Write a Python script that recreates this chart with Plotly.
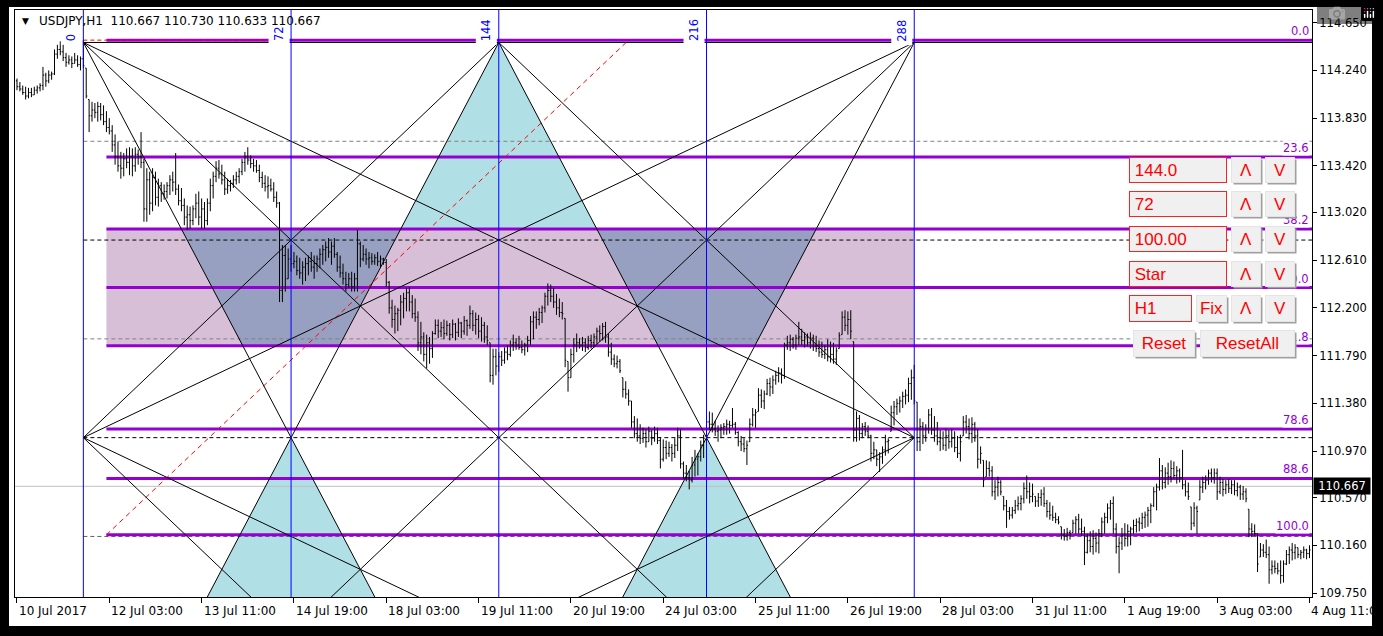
import plotly.graph_objects as go

# H1 bars of USDJPY, bar 0 = 10 Jul 2017 19:00
highs = [
    114.17, 114.14, 114.11, 114.10, 114.09, 114.09, 114.10, 114.11, 114.13, 114.27,
    114.22, 114.24, 114.23, 114.42, 114.46, 114.49, 114.47, 114.39, 114.37, 114.36,
    114.39, 114.37, 114.36, 114.50, 114.26, 113.99, 113.97, 113.96, 113.97, 113.96,
    113.94, 113.89, 113.83, 113.77, 113.69, 113.63, 113.54, 113.53, 113.57, 113.58,
    113.57, 113.58, 113.56, 113.71, 113.48, 113.40, 113.37, 113.40, 113.37, 113.31,
    113.28, 113.26, 113.28, 113.34, 113.37, 113.53, 113.26, 113.23, 113.14, 113.08,
    113.07, 113.08, 113.18, 113.20, 113.14, 113.11, 113.14, 113.31, 113.37, 113.46,
    113.47, 113.43, 113.37, 113.31, 113.30, 113.34, 113.37, 113.40, 113.48, 113.54,
    113.58, 113.51, 113.48, 113.47, 113.43, 113.37, 113.34, 113.33, 113.31, 113.28,
    113.20, 113.11, 112.74, 112.74, 112.71, 112.74, 112.68, 112.65, 112.63, 112.60,
    112.63, 112.65, 112.68, 112.65, 112.65, 112.71, 112.74, 112.77, 112.80, 112.77,
    112.80, 112.68, 112.65, 112.58, 112.51, 112.50, 112.51, 112.50, 112.87, 112.77,
    112.74, 112.71, 112.68, 112.67, 112.66, 112.68, 112.65, 112.63, 112.62, 112.43,
    112.27, 112.22, 112.20, 112.31, 112.33, 112.37, 112.38, 112.31, 112.28, 112.17,
    112.08, 111.99, 111.97, 111.95, 112.00, 112.10, 112.10, 112.08, 112.10, 112.09,
    112.07, 112.10, 112.07, 112.11, 112.08, 112.13, 112.10, 112.22, 112.18, 112.16,
    112.14, 112.12, 112.08, 112.05, 111.90, 111.85, 111.85, 111.82, 111.83, 111.86,
    111.88, 111.92, 111.97, 111.94, 111.96, 111.92, 111.90, 111.96, 112.13, 112.17,
    112.17, 112.20, 112.22, 112.33, 112.41, 112.40, 112.37, 112.32, 112.28, 112.25,
    112.11, 111.74, 111.85, 111.94, 111.98, 111.94, 111.95, 111.94, 111.96, 111.97,
    111.98, 112.03, 112.05, 112.07, 112.08, 111.98, 111.90, 111.80, 111.79, 111.76,
    111.60, 111.57, 111.50, 111.40, 111.27, 111.25, 111.20, 111.17, 111.16, 111.18,
    111.15, 111.18, 111.17, 111.09, 111.07, 111.06, 111.05, 111.03, 111.08, 111.17,
    111.16, 110.88, 110.85, 110.80, 110.92, 110.98, 110.95, 111.06, 111.11, 111.28,
    111.31, 111.30, 111.23, 111.19, 111.20, 111.21, 111.24, 111.23, 111.34, 111.22,
    111.14, 111.10, 111.08, 111.06, 111.25, 111.34, 111.33, 111.51, 111.50, 111.49,
    111.59, 111.60, 111.62, 111.66, 111.69, 111.68, 111.90, 111.96, 111.97, 111.95,
    111.97, 112.08, 112.02, 111.99, 111.98, 111.99, 111.97, 111.96, 111.92, 111.91,
    111.88, 111.93, 111.91, 111.90, 111.86, 111.99, 112.17, 112.18, 112.17, 112.18,
    111.91, 111.31, 111.28, 111.21, 111.22, 111.19, 111.11, 111.05, 110.98, 110.96,
    111.01, 111.11, 111.08, 111.36, 111.40, 111.42, 111.44, 111.48, 111.50, 111.60,
    111.67, 111.71, 111.39, 111.25, 111.22, 111.20, 111.33, 111.34, 111.27, 111.22,
    111.15, 111.14, 111.16, 111.15, 111.16, 111.14, 111.10, 111.11, 111.27, 111.28,
    111.25, 111.26, 111.22, 111.16, 111.01, 110.89, 110.89, 110.88, 110.84, 110.72,
    110.75, 110.72, 110.58, 110.55, 110.49, 110.49, 110.55, 110.58, 110.59, 110.70,
    110.76, 110.70, 110.69, 110.58, 110.61, 110.64, 110.66, 110.55, 110.53, 110.50,
    110.44, 110.41, 110.32, 110.30, 110.31, 110.29, 110.38, 110.41, 110.43, 110.39,
    110.32, 110.26, 110.28, 110.29, 110.27, 110.30, 110.40, 110.44, 110.52, 110.55,
    110.58, 110.35, 110.23, 110.31, 110.35, 110.34, 110.32, 110.38, 110.39, 110.40,
    110.44, 110.45, 110.49, 110.52, 110.66, 110.69, 110.91, 110.85, 110.83, 110.87,
    110.89, 110.88, 110.84, 110.82, 110.98, 110.72, 110.70, 110.49, 110.53, 110.50,
    110.72, 110.75, 110.76, 110.81, 110.82, 110.82, 110.82, 110.75, 110.73, 110.72,
    110.73, 110.72, 110.72, 110.70, 110.68, 110.67, 110.65, 110.47, 110.35, 110.34,
    110.26, 110.18, 110.17, 110.21, 110.15, 110.03, 110.03, 110.01, 110.03, 110.03,
    110.12, 110.15, 110.18, 110.17, 110.14, 110.12, 110.15, 110.13, 110.16,
]
lows = [
    114.07, 114.06, 114.03, 113.99, 114.00, 114.01, 114.03, 114.04, 114.06, 114.07,
    114.10, 114.13, 114.16, 114.20, 114.34, 114.37, 114.32, 114.27, 114.29, 114.26,
    114.30, 114.27, 114.24, 114.26, 114.00, 113.71, 113.80, 113.83, 113.80, 113.81,
    113.77, 113.71, 113.69, 113.54, 113.43, 113.37, 113.31, 113.33, 113.40, 113.34,
    113.33, 113.37, 113.43, 113.40, 112.94, 112.94, 113.00, 113.03, 113.08, 113.07,
    113.11, 113.13, 113.14, 113.17, 113.20, 113.17, 113.08, 113.03, 112.91, 112.87,
    112.88, 112.91, 112.97, 112.91, 112.88, 112.88, 112.91, 113.03, 113.14, 113.28,
    113.31, 113.26, 113.17, 113.18, 113.20, 113.23, 113.26, 113.27, 113.34, 113.37,
    113.43, 113.40, 113.37, 113.36, 113.28, 113.23, 113.20, 113.14, 113.20, 113.11,
    113.06, 112.25, 112.25, 112.34, 112.45, 112.51, 112.54, 112.48, 112.45, 112.40,
    112.43, 112.48, 112.51, 112.45, 112.51, 112.54, 112.57, 112.60, 112.63, 112.57,
    112.63, 112.51, 112.46, 112.40, 112.34, 112.37, 112.34, 112.34, 112.34, 112.55,
    112.60, 112.57, 112.54, 112.57, 112.57, 112.56, 112.55, 112.57, 112.38, 112.15,
    112.03, 111.98, 112.00, 112.05, 112.11, 112.17, 112.17, 112.11, 112.08, 111.83,
    111.80, 111.74, 111.68, 111.72, 111.77, 111.97, 111.94, 111.95, 111.93, 111.96,
    111.92, 111.94, 111.92, 111.95, 111.94, 111.97, 111.96, 112.02, 112.00, 111.97,
    111.94, 111.91, 111.90, 111.88, 111.56, 111.54, 111.62, 111.65, 111.70, 111.72,
    111.75, 111.78, 111.83, 111.84, 111.84, 111.81, 111.79, 111.82, 111.88, 111.93,
    112.02, 112.05, 112.07, 112.16, 112.22, 112.25, 112.20, 112.14, 112.12, 112.10,
    111.69, 111.48, 111.60, 111.73, 111.82, 111.85, 111.83, 111.82, 111.84, 111.85,
    111.86, 111.89, 111.91, 111.92, 111.90, 111.78, 111.71, 111.69, 111.68, 111.64,
    111.43, 111.42, 111.36, 111.17, 111.08, 111.05, 111.03, 111.04, 111.00, 111.05,
    111.02, 111.05, 111.03, 110.82, 110.88, 110.90, 110.92, 110.88, 110.91, 110.97,
    110.82, 110.73, 110.71, 110.64, 110.70, 110.75, 110.76, 110.88, 110.91, 111.10,
    111.15, 111.13, 111.10, 111.05, 111.08, 111.11, 111.11, 111.12, 111.17, 111.11,
    111.01, 110.97, 110.96, 110.85, 111.05, 111.18, 111.17, 111.31, 111.34, 111.33,
    111.45, 111.44, 111.46, 111.54, 111.56, 111.55, 111.59, 111.84, 111.83, 111.85,
    111.84, 111.88, 111.88, 111.86, 111.87, 111.85, 111.83, 111.82, 111.78, 111.77,
    111.76, 111.74, 111.73, 111.72, 111.71, 111.85, 111.97, 112.00, 111.97, 111.93,
    111.05, 111.05, 111.06, 111.08, 111.10, 111.08, 110.88, 110.90, 110.84, 110.79,
    110.86, 110.93, 110.95, 111.14, 111.19, 111.28, 111.30, 111.34, 111.37, 111.39,
    111.41, 111.37, 110.97, 110.97, 111.03, 111.05, 111.12, 111.11, 111.05, 111.02,
    110.97, 110.98, 110.97, 110.99, 111.00, 110.96, 110.91, 110.88, 111.10, 111.12,
    111.07, 111.04, 111.05, 110.82, 110.86, 110.66, 110.75, 110.75, 110.58, 110.55,
    110.58, 110.59, 110.46, 110.31, 110.38, 110.39, 110.43, 110.46, 110.46, 110.52,
    110.56, 110.52, 110.53, 110.49, 110.49, 110.50, 110.49, 110.40, 110.38, 110.37,
    110.35, 110.34, 110.21, 110.20, 110.20, 110.21, 110.27, 110.26, 110.26, 110.24,
    109.99, 110.09, 110.10, 110.08, 110.10, 110.09, 110.23, 110.26, 110.35, 110.38,
    110.26, 110.09, 109.92, 110.12, 110.15, 110.15, 110.16, 110.26, 110.27, 110.28,
    110.30, 110.31, 110.32, 110.35, 110.49, 110.46, 110.63, 110.64, 110.65, 110.68,
    110.70, 110.73, 110.69, 110.70, 110.64, 110.58, 110.55, 110.29, 110.32, 110.26,
    110.55, 110.61, 110.64, 110.68, 110.70, 110.69, 110.55, 110.60, 110.58, 110.60,
    110.61, 110.60, 110.59, 110.58, 110.55, 110.55, 110.53, 110.23, 110.23, 110.24,
    109.93, 110.06, 110.06, 110.05, 109.83, 109.91, 109.92, 109.91, 109.83, 109.84,
    109.99, 110.00, 110.03, 110.04, 110.05, 110.04, 110.05, 110.04, 110.05,
]
opens = [
    114.15, 114.10, 114.08, 114.05, 114.02, 114.05, 114.03, 114.07, 114.09, 114.11,
    114.20, 114.15, 114.20, 114.21, 114.38, 114.42, 114.40, 114.35, 114.31, 114.33,
    114.30, 114.33, 114.29, 114.34, 114.26, 113.99, 113.85, 113.90, 113.88, 113.93,
    113.86, 113.80, 113.75, 113.72, 113.60, 113.50, 113.42, 113.40, 113.48, 113.45,
    113.50, 113.42, 113.52, 113.50, 113.45, 113.05, 113.30, 113.10, 113.32, 113.15,
    113.25, 113.18, 113.20, 113.25, 113.30, 113.28, 113.22, 113.12, 113.08, 112.98,
    113.00, 112.95, 113.05, 113.10, 112.98, 113.05, 112.95, 113.10, 113.25, 113.33,
    113.40, 113.35, 113.30, 113.22, 113.25, 113.27, 113.30, 113.33, 113.37, 113.45,
    113.50, 113.47, 113.44, 113.42, 113.38, 113.32, 113.27, 113.24, 113.25, 113.22,
    113.15, 113.10, 112.35, 112.65, 112.45, 112.62, 112.58, 112.60, 112.52, 112.50,
    112.55, 112.58, 112.60, 112.55, 112.58, 112.62, 112.66, 112.70, 112.72, 112.68,
    112.73, 112.66, 112.55, 112.50, 112.45, 112.40, 112.45, 112.38, 112.45, 112.75,
    112.62, 112.66, 112.62, 112.63, 112.60, 112.63, 112.60, 112.62, 112.59, 112.42,
    112.20, 112.10, 112.15, 112.18, 112.25, 112.28, 112.33, 112.25, 112.15, 112.12,
    111.90, 111.95, 111.80, 111.90, 111.85, 111.98, 112.05, 112.00, 112.03, 111.98,
    112.05, 111.97, 112.06, 111.99, 112.07, 112.00, 112.09, 112.05, 112.15, 112.05,
    112.10, 112.00, 112.05, 111.95, 111.90, 111.62, 111.78, 111.70, 111.78, 111.75,
    111.82, 111.80, 111.88, 111.90, 111.88, 111.86, 111.84, 111.88, 111.92, 112.08,
    112.12, 112.10, 112.16, 112.20, 112.30, 112.35, 112.30, 112.25, 112.20, 112.16,
    112.11, 111.74, 111.60, 111.80, 111.88, 111.90, 111.88, 111.90, 111.86, 111.92,
    111.90, 111.95, 112.00, 111.98, 112.04, 111.95, 111.82, 111.76, 111.72, 111.74,
    111.60, 111.50, 111.46, 111.40, 111.22, 111.12, 111.10, 111.08, 111.12, 111.05,
    111.14, 111.08, 111.12, 111.06, 110.90, 111.00, 110.95, 111.00, 110.95, 111.02,
    111.10, 110.86, 110.78, 110.74, 110.72, 110.85, 110.90, 110.92, 111.02, 111.10,
    111.22, 111.20, 111.16, 111.14, 111.15, 111.17, 111.18, 111.20, 111.19, 111.20,
    111.13, 111.05, 111.03, 110.99, 111.05, 111.20, 111.28, 111.31, 111.45, 111.40,
    111.46, 111.55, 111.52, 111.58, 111.62, 111.64, 111.62, 111.88, 111.90, 111.93,
    111.88, 111.94, 111.95, 111.92, 111.95, 111.90, 111.94, 111.87, 111.85, 111.82,
    111.80, 111.84, 111.78, 111.80, 111.76, 111.85, 111.97, 112.12, 112.05, 112.10,
    111.91, 111.15, 111.25, 111.12, 111.18, 111.14, 111.10, 110.95, 110.98, 110.90,
    110.92, 110.98, 111.05, 111.14, 111.30, 111.35, 111.38, 111.40, 111.44, 111.45,
    111.55, 111.60, 111.39, 111.05, 111.18, 111.10, 111.16, 111.28, 111.15, 111.10,
    111.05, 111.08, 111.02, 111.10, 111.05, 111.08, 111.00, 110.95, 111.10, 111.22,
    111.18, 111.12, 111.20, 111.10, 110.90, 110.89, 110.75, 110.82, 110.80, 110.62,
    110.66, 110.70, 110.58, 110.50, 110.45, 110.42, 110.46, 110.50, 110.52, 110.56,
    110.65, 110.62, 110.58, 110.58, 110.54, 110.57, 110.60, 110.52, 110.45, 110.42,
    110.40, 110.38, 110.32, 110.25, 110.24, 110.27, 110.27, 110.35, 110.38, 110.30,
    110.28, 110.10, 110.20, 110.15, 110.22, 110.18, 110.26, 110.36, 110.40, 110.48,
    110.52, 110.30, 110.15, 110.18, 110.25, 110.22, 110.28, 110.30, 110.33, 110.36,
    110.35, 110.40, 110.42, 110.46, 110.50, 110.62, 110.66, 110.80, 110.70, 110.78,
    110.75, 110.82, 110.76, 110.80, 110.74, 110.68, 110.62, 110.49, 110.35, 110.48,
    110.55, 110.66, 110.70, 110.72, 110.78, 110.74, 110.78, 110.62, 110.70, 110.64,
    110.68, 110.65, 110.68, 110.63, 110.66, 110.60, 110.62, 110.47, 110.30, 110.28,
    110.26, 110.06, 110.12, 110.10, 110.08, 109.95, 109.98, 109.96, 109.94, 109.90,
    110.00, 110.08, 110.12, 110.10, 110.14, 110.08, 110.10, 110.12, 110.09,
]
closes = [
    114.10, 114.08, 114.05, 114.02, 114.05, 114.03, 114.07, 114.09, 114.11, 114.20,
    114.15, 114.20, 114.21, 114.38, 114.42, 114.40, 114.35, 114.31, 114.33, 114.30,
    114.33, 114.29, 114.34, 114.28, 114.02, 113.85, 113.90, 113.88, 113.93, 113.86,
    113.80, 113.75, 113.72, 113.60, 113.50, 113.42, 113.40, 113.48, 113.45, 113.50,
    113.42, 113.52, 113.50, 113.45, 113.05, 113.30, 113.10, 113.32, 113.15, 113.25,
    113.18, 113.20, 113.25, 113.30, 113.28, 113.22, 113.12, 113.08, 112.98, 113.00,
    112.95, 113.05, 113.10, 112.98, 113.05, 112.95, 113.10, 113.25, 113.33, 113.40,
    113.35, 113.30, 113.22, 113.25, 113.27, 113.30, 113.33, 113.37, 113.45, 113.50,
    113.47, 113.44, 113.42, 113.38, 113.32, 113.27, 113.24, 113.25, 113.22, 113.15,
    113.10, 112.35, 112.65, 112.45, 112.62, 112.58, 112.60, 112.52, 112.50, 112.55,
    112.58, 112.60, 112.55, 112.58, 112.62, 112.66, 112.70, 112.72, 112.68, 112.73,
    112.66, 112.55, 112.50, 112.45, 112.40, 112.45, 112.38, 112.45, 112.75, 112.62,
    112.66, 112.62, 112.63, 112.60, 112.63, 112.60, 112.62, 112.59, 112.42, 112.20,
    112.10, 112.15, 112.18, 112.25, 112.28, 112.33, 112.25, 112.15, 112.12, 111.90,
    111.95, 111.80, 111.90, 111.85, 111.98, 112.05, 112.00, 112.03, 111.98, 112.05,
    111.97, 112.06, 111.99, 112.07, 112.00, 112.09, 112.05, 112.15, 112.05, 112.10,
    112.00, 112.05, 111.95, 111.92, 111.62, 111.78, 111.70, 111.78, 111.75, 111.82,
    111.80, 111.88, 111.90, 111.88, 111.86, 111.84, 111.88, 111.92, 112.08, 112.12,
    112.10, 112.16, 112.20, 112.30, 112.35, 112.30, 112.25, 112.20, 112.16, 112.15,
    111.75, 111.60, 111.80, 111.88, 111.90, 111.88, 111.90, 111.86, 111.92, 111.90,
    111.95, 112.00, 111.98, 112.04, 111.95, 111.82, 111.76, 111.72, 111.74, 111.66,
    111.50, 111.46, 111.40, 111.22, 111.12, 111.10, 111.08, 111.12, 111.05, 111.14,
    111.08, 111.12, 111.06, 110.90, 111.00, 110.95, 111.00, 110.95, 111.02, 111.10,
    110.86, 110.78, 110.74, 110.72, 110.85, 110.90, 110.92, 111.02, 111.08, 111.22,
    111.20, 111.16, 111.14, 111.15, 111.17, 111.18, 111.20, 111.19, 111.20, 111.13,
    111.05, 111.03, 110.99, 111.02, 111.20, 111.28, 111.30, 111.45, 111.40, 111.46,
    111.55, 111.52, 111.58, 111.62, 111.64, 111.62, 111.88, 111.90, 111.93, 111.88,
    111.94, 111.95, 111.92, 111.95, 111.90, 111.94, 111.87, 111.85, 111.82, 111.80,
    111.84, 111.78, 111.80, 111.76, 111.83, 111.96, 112.12, 112.05, 112.10, 112.00,
    111.15, 111.25, 111.12, 111.18, 111.14, 111.10, 110.95, 110.98, 110.90, 110.92,
    110.98, 111.05, 111.06, 111.30, 111.35, 111.38, 111.40, 111.44, 111.45, 111.55,
    111.60, 111.40, 111.05, 111.18, 111.10, 111.16, 111.28, 111.15, 111.10, 111.05,
    111.08, 111.02, 111.10, 111.05, 111.08, 111.00, 110.95, 111.05, 111.22, 111.18,
    111.12, 111.20, 111.10, 110.90, 110.95, 110.72, 110.82, 110.80, 110.62, 110.66,
    110.70, 110.62, 110.50, 110.45, 110.42, 110.46, 110.50, 110.52, 110.56, 110.65,
    110.62, 110.58, 110.60, 110.54, 110.57, 110.60, 110.52, 110.45, 110.42, 110.40,
    110.38, 110.36, 110.25, 110.24, 110.27, 110.26, 110.35, 110.38, 110.30, 110.28,
    110.10, 110.20, 110.15, 110.22, 110.18, 110.26, 110.36, 110.40, 110.48, 110.52,
    110.30, 110.15, 110.18, 110.25, 110.22, 110.28, 110.30, 110.33, 110.36, 110.35,
    110.40, 110.42, 110.46, 110.50, 110.62, 110.66, 110.80, 110.70, 110.78, 110.75,
    110.82, 110.76, 110.80, 110.74, 110.68, 110.62, 110.58, 110.35, 110.48, 110.45,
    110.66, 110.70, 110.72, 110.78, 110.74, 110.78, 110.62, 110.70, 110.64, 110.68,
    110.65, 110.68, 110.63, 110.66, 110.60, 110.62, 110.56, 110.30, 110.28, 110.26,
    110.00, 110.12, 110.10, 110.08, 109.95, 109.98, 109.96, 109.94, 109.90, 110.00,
    110.08, 110.12, 110.10, 110.14, 110.08, 110.10, 110.12, 110.09, 110.12,
]
bars = list(range(len(closes)))

time_labels = ["10 Jul 2017", "12 Jul 03:00", "13 Jul 11:00", "14 Jul 19:00", "18 Jul 03:00",
               "19 Jul 11:00", "20 Jul 19:00", "24 Jul 03:00", "25 Jul 11:00", "26 Jul 19:00",
               "28 Jul 03:00", "31 Jul 11:00", "1 Aug 19:00", "3 Aug 03:00", "4 Aug 11:00"]
time_label_bars = [0, 32, 64, 96, 128, 160, 192, 224, 256, 288, 320, 352, 384, 416, 448]
price_ticks = [114.650, 114.240, 113.830, 113.420, 113.020, 112.610, 112.200,
               111.790, 111.380, 110.970, 110.570, 110.160, 109.750]

symbol = "USDJPY,H1"
last_ohlc = ["110.667", "110.730", "110.633", "110.667"]
last_price = 110.667

fib_levels = [0.0, 23.6, 38.2, 50.0, 61.8, 78.6, 88.6, 100.0]
fib_high = 114.50
fib_low = 110.25
fib_bar_a = 31
fib_bar_b = 212
red_top_end_bar = 87

gann_bars = [23, 95, 167, 239, 311]
gann_names = ["0", "72", "144", "216", "288"]
gann_top = 114.48
gann_mid = 111.085

panel_values = ["144.0", "72", "100.00", "Star"]
panel_tf = "H1"

X_MIN, X_MAX = -0.69, 448.87
Y_MIN, Y_MAX = 109.716, 114.759
FONT = "DejaVu Sans"
PURPLE = "#9400D3"
TICK = 0.38  # open/close tick length in bars

# plot area in pixels: left 15, right 1312, top 10, bottom 597
def px_x(px):
    return (px - 15) / 1297


def px_y(py):
    return (597 - py) / 587


def fib_price(lvl):
    return fib_high - (fib_high - fib_low) * lvl / 100


def x_at(p, q, price):
    return p[0] + (price - p[1]) * (q[0] - p[0]) / (q[1] - p[1])


g0, g72, g144, g216, g288 = gann_bars
step = (gann_top - gann_mid) / 4
gann_bot = gann_mid - (gann_top - gann_mid)
A0, A144, A288 = (g0, gann_top), (g144, gann_top), (g288, gann_top)
M0, M144, M288 = (g0, gann_mid), (g144, gann_mid), (g288, gann_mid)
X1, X2 = (g72, gann_mid), (g216, gann_mid)
B0, B144, B288 = (g0, gann_bot), (g144, gann_bot), (g288, gann_bot)

box_top = fib_price(38.2)
box_bot = fib_price(61.8)

fig = go.Figure()


def poly(points, color):
    xs = [p[0] for p in points] + [points[0][0]]
    ys = [p[1] for p in points] + [points[0][1]]
    fig.add_trace(go.Scatter(x=xs, y=ys, mode="lines", fill="toself", fillcolor=color,
                             line=dict(width=0, color=color), hoverinfo="skip"))


def hline(price, x0, x1, color, width=1, dash=None):
    fig.add_trace(go.Scatter(x=[x0, x1], y=[price, price], mode="lines",
                             line=dict(color=color, width=width, dash=dash), hoverinfo="skip"))


# filled zones
poly([(fib_bar_a, box_top), (g288, box_top), (g288, box_bot), (fib_bar_a, box_bot)], "#D8BFD8")
for left, right in [((A0, X1), (A144, X1)), ((A144, X2), (A288, X2))]:
    poly([(x_at(*left, box_top), box_top), (x_at(*right, box_top), box_top),
          (x_at(*right, box_bot), box_bot), (x_at(*left, box_bot), box_bot)], "#97A0C1")
poly([A144, (x_at(A144, X1, box_top), box_top), (x_at(A144, X2, box_top), box_top)], "#B0E0E6")
poly([X1, B0, B144], "#B0E0E6")
poly([X2, B144, B288], "#B0E0E6")

# current price line
hline(last_price, X_MIN, X_MAX, "#C0C0C0")

# gann rows
row_colors = ["#808080", "black", "#808080", "black", "#606060"]
for k in range(1, 6):
    hline(gann_top - k * step, g0, X_MAX, row_colors[k - 1], 1, "4px,3px")

# gann top edge and fib levels
hline(gann_top, g0, X_MAX, "black", 1)
for lvl in fib_levels:
    hline(fib_price(lvl), fib_bar_a, X_MAX, PURPLE, 3)

# red dashed fib baseline
hline(fib_high, g0, red_top_end_bar, "red", 1, "4px,3px")
fig.add_trace(go.Scatter(x=[fib_bar_a, fib_bar_b], y=[fib_low, fib_high], mode="lines",
                         line=dict(color="red", width=1, dash="5px,4px"), hoverinfo="skip"))

# gann star lines
star = [(A0, B144), (A0, B288), (A0, M288), (A144, B0), (A144, M0), (A144, B288),
        (A144, M288), (A288, B144), (A288, B0), (A288, M0), (M0, B144), (M0, B288),
        (M288, B144), (M288, B0)]
sx, sy = [], []
for p, q in star:
    sx += [p[0], q[0], None]
    sy += [p[1], q[1], None]
fig.add_trace(go.Scatter(x=sx, y=sy, mode="lines", line=dict(color="black", width=1),
                         hoverinfo="skip"))

# price bars (high-low stem, open tick left, close tick right)
bx, by = [], []
for i, o, h, l, c in zip(bars, opens, highs, lows, closes):
    bx += [i, i, None, i - TICK, i, None, i, i + TICK, None]
    by += [l, h, None, o, o, None, c, c, None]
fig.add_trace(go.Scatter(x=bx, y=by, mode="lines", line=dict(color="black", width=1),
                         hoverinfo="skip"))

shapes = [dict(type="rect", xref="paper", yref="paper", x0=px_x(9), x1=px_x(1372),
               y0=px_y(626), y1=px_y(7), fillcolor="white", line=dict(width=0), layer="below")]
for b in gann_bars:
    shapes.append(dict(type="line", xref="x", yref="paper", x0=b, x1=b, y0=0, y1=1,
                       line=dict(color="#0000FF", width=1), layer="above"))

ann = []
# gann labels
for b, name in zip(gann_bars, gann_names):
    ann.append(dict(x=b, y=gann_top, xref="x", yref="y", text=name, showarrow=False,
                    textangle=-90, xanchor="center", yanchor="bottom", xshift=-12, yshift=-3,
                    font=dict(family=FONT, size=11.5, color="#0000FF"),
                    bgcolor="white", borderpad=3))
# fib labels
for lvl in fib_levels:
    ann.append(dict(x=1, y=fib_price(lvl), xref="paper", yref="y", text=f"{lvl:.1f}",
                    showarrow=False, xanchor="right", yanchor="bottom", xshift=-2, yshift=1,
                    font=dict(family=FONT, size=11.5, color=PURPLE), bgcolor="white",
                    borderpad=0))
# time labels
for b, t in zip(time_label_bars, time_labels):
    ann.append(dict(x=b, y=0, xref="x", yref="paper", text=t, showarrow=False,
                    xanchor="left", yanchor="top", xshift=0, yshift=-5,
                    font=dict(family=FONT, size=12, color="black")))
# current price tag on axis
ann.append(dict(x=1, y=last_price, xref="paper", yref="y", text=f"{last_price:.3f}",
                showarrow=False, xanchor="left", yanchor="middle", xshift=1,
                font=dict(family=FONT, size=11.5, color="white"), bgcolor="black",
                width=54, borderpad=1))
# header
ann.append(dict(x=px_x(20), y=px_y(21), xref="paper", yref="paper", text="\u25bc",
                showarrow=False, xanchor="left", yanchor="middle",
                font=dict(family=FONT, size=9, color="black")))
ann.append(dict(x=px_x(37), y=px_y(21), xref="paper", yref="paper",
                text=symbol + "  " + " ".join(last_ohlc), showarrow=False,
                xanchor="left", yanchor="middle",
                font=dict(family=FONT, size=12, color="black")))


def widget(x0, y0, x1, y1, text, kind):
    cx = px_x((x0 + x1) / 2)
    cy = px_y((y0 + y1) / 2)
    w, h = x1 - x0 - 2, y1 - y0 - 2
    f = dict(family="Liberation Sans", size=17, color="#FF0000")
    base = dict(x=cx, y=cy, xref="paper", yref="paper", showarrow=False,
                xanchor="center", yanchor="middle", width=w, height=h, borderpad=0, font=f)
    if kind == "edit":
        ann.append(dict(base, text="\u00a0" + text, align="left", bgcolor="#F0F0F0",
                        bordercolor="#FF2020", borderwidth=1))
    else:
        ann.append(dict(base, text=" ", xshift=2, yshift=-2, bgcolor="#A0A0A0"))
        ann.append(dict(base, text=text, bgcolor="#F0F0F0", bordercolor="#E4E4E4",
                        borderwidth=1))


rows = [(157, 183), (191, 217), (226, 252), (261, 287), (295, 322)]
for (y0, y1), val in zip(rows[:4], panel_values):
    widget(1129, y0, 1227, y1, val, "edit")
y0, y1 = rows[4]
widget(1129, y0, 1192, y1, panel_tf, "edit")
widget(1196, y0, 1227, y1, "Fix", "button")
for y0, y1 in rows:
    widget(1231, y0, 1261, y1, "\u039b", "button")
    widget(1265, y0, 1295, y1, "V", "button")
widget(1133, 330, 1195, 357, "Reset", "button")
widget(1200, 330, 1295, 357, "ResetAll", "button")

fig.update_layout(
    width=1383, height=636,
    margin=dict(l=15, r=71, t=10, b=39),
    paper_bgcolor="black", plot_bgcolor="white",
    showlegend=False,
    shapes=shapes, annotations=ann,
    font=dict(family=FONT, size=11.5, color="black"),
    xaxis=dict(range=[X_MIN, X_MAX], showgrid=False, zeroline=False, showline=True,
               mirror=True, linecolor="black", linewidth=1, ticks="outside", ticklen=5,
               tickcolor="black", tickvals=time_label_bars, showticklabels=False,
               fixedrange=True),
    yaxis=dict(range=[Y_MIN, Y_MAX], side="right", showgrid=False, zeroline=False,
               showline=True, mirror=True, linecolor="black", linewidth=1,
               ticks="outside", ticklen=4, tickcolor="black", tickvals=price_ticks,
               ticktext=[f"{v:.3f}" for v in price_ticks], fixedrange=True),
)

fig.write_html("out.html", post_script="document.body.style.margin='0px';")
